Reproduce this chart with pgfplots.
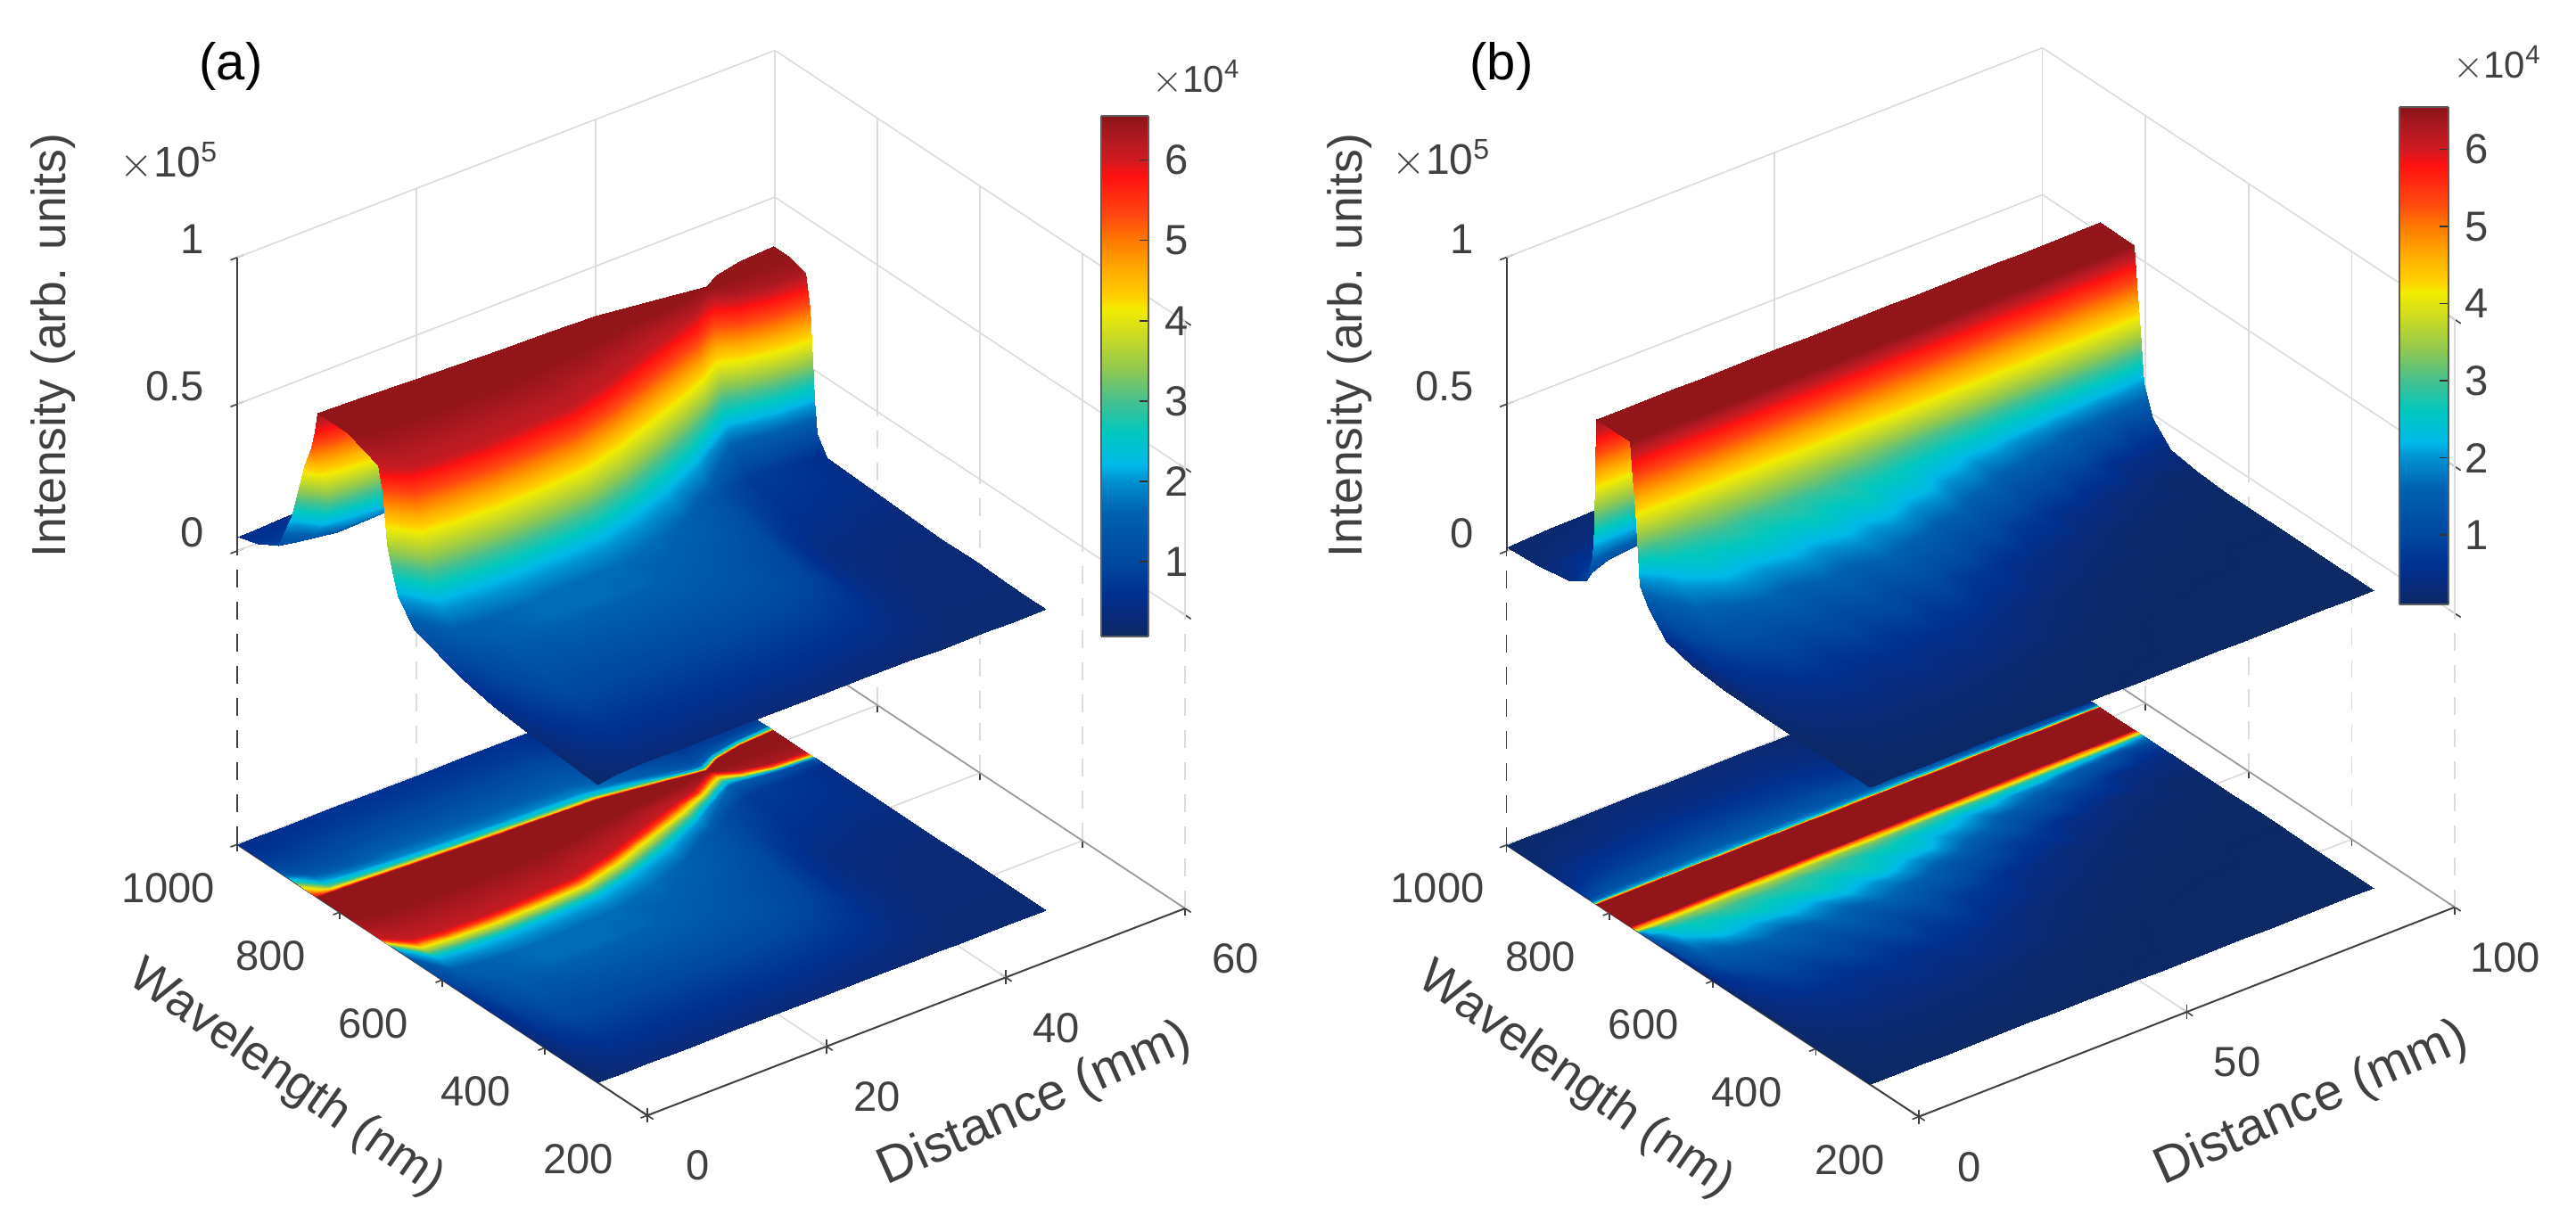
\documentclass[border=0pt]{standalone}
\usepackage{fontspec}
\setmainfont{Liberation Sans}
\usepackage{pgfplots}
\usepackage{pgfplotstable}
\pgfplotsset{compat=1.18}
\definecolor{txt}{HTML}{404040}
\definecolor{gl}{HTML}{DCDCDC}
\definecolor{edge}{HTML}{9A9A9A}
\pgfplotsset{
  colormap={ref}{
    rgb255(7pt)=(12,40,96);
    rgb255(30pt)=(10,42,120);
    rgb255(60pt)=(0,48,144);
    rgb255(100pt)=(0,72,160);
    rgb255(160pt)=(0,96,176);
    rgb255(200pt)=(0,144,208);
    rgb255(220pt)=(0,184,232);
    rgb255(260pt)=(0,200,192);
    rgb255(300pt)=(69,192,144);
    rgb255(340pt)=(144,200,80);
    rgb255(385pt)=(207,220,32);
    rgb255(415pt)=(242,236,0);
    rgb255(430pt)=(255,208,0);
    rgb255(460pt)=(255,176,0);
    rgb255(500pt)=(255,122,0);
    rgb255(530pt)=(255,74,16);
    rgb255(580pt)=(255,16,16);
    rgb255(600pt)=(208,26,32);
    rgb255(620pt)=(184,26,34);
    rgb255(655pt)=(139,20,24)
  },
  mainaxis/.style={
    /pgf/number format/assume math mode=true,
    /pgf/number format/1000 sep={},
    scaled ticks=false,
    clip=false,
    anchor=origin,
    ymin=200,ymax=1000,zmin=-1,zmax=1,
    ytick={200,400,600,800,1000},
    ztick={0,0.5,1},
    point meta min=0.07,point meta max=6.55,
    colormap name=ref,
    axis line style={draw=none},
    tick style={color=txt,line width=0.4pt},
    major tick length=4pt,
    tick align=center,
    tick pos=left,
    tick label style={font=\fontsize{11.8}{12}\selectfont,text=txt},
    xticklabel style={anchor=center,xshift=12.5pt,yshift=-13pt},
    yticklabel style={anchor=center,xshift=-17.5pt,yshift=-11.5pt},
    zticklabel style={anchor=east,xshift=-4pt,yshift=4pt},
    xlabel style={font=\fontsize{14.5}{15}\selectfont,text=txt},
    ylabel style={font=\fontsize{13.8}{15}\selectfont,text=txt},
    zlabel style={font=\fontsize{13.4}{15}\selectfont,text=txt},
  },
  glline/.style={forget plot,color=gl,line width=0.4pt,solid,no markers},
  gldash/.style={forget plot,color=gl,line width=0.4pt,dash pattern=on 5pt off 4pt,no markers},
  edgeline/.style={forget plot,color=edge,line width=0.45pt,no markers},
  axline/.style={forget plot,color=txt,line width=0.5pt,no markers},
  axdash/.style={forget plot,color=txt,line width=0.4pt,dash pattern=on 5pt off 4pt,no markers},
  cbar/.style={
    scale only axis,
    /pgf/number format/assume math mode=true,
    xmin=0,xmax=1,ymax=6.55,
    xtick=\empty,ytick={1,2,3,4,5,6},
    ytick pos=right,yticklabel pos=right,
    tick align=inside,
    major tick length=2.5pt,
    tick style={color=black!80,line width=0.4pt},
    axis line style={color=txt!85,line width=0.6pt},
    tick label style={font=\fontsize{11.8}{12}\selectfont,text=txt,xshift=1pt},
    view={0}{90},
    colormap name=ref,
    point meta min=0.07,point meta max=6.55,
  },
}
\newcommand\GS[2]{\addplot3[glline] coordinates {#1 #2};}
\newcommand\GD[2]{\addplot3[gldash] coordinates {#1 #2};}
\pgfplotstableread[row sep=\\]{
d l I\\
50 1000 .3\\ 50 960 .3\\ 50 920 .35\\ 50 878 .6\\ 50 853 .9\\ 50 840 1.5\\ 50 833 3.2\\ 50 828 6.5\\ 50 797 6.5\\ 50 766 6.3\\ 50 758 5.2\\ 50 752 3.5\\ 50 748 2.2\\ 50 743 1.1\\ 50 725 .5\\ 50 560 .35\\ 50 500 .3\\ 50 440 .3\\ 50 380 .28\\ 50 330 .25\\ 50 297 .25\\
46 1000 .3\\ 46 960 .3\\ 46 920 .4\\ 46 874 .6\\ 46 849 .9\\ 46 836 1.6\\ 46 829 3.2\\ 46 824 6.5\\ 46 797 6.5\\ 46 770 6.3\\ 46 762 5.2\\ 46 756 3.5\\ 46 752 2.2\\ 46 747 1.2\\ 46 725 .7\\ 46 560 .35\\ 46 500 .3\\ 46 440 .3\\ 46 380 .28\\ 46 330 .25\\ 46 297 .25\\
43 1000 .3\\ 43 960 .35\\ 43 920 .45\\ 43 866 .7\\ 43 841 1\\ 43 828 1.6\\ 43 821 3\\ 43 816 6.5\\ 43 798 6.5\\ 43 780 6.3\\ 43 772 5.3\\ 43 765 3.6\\ 43 760 2.4\\ 43 755 1.5\\ 43 730 .8\\ 43 560 .4\\ 43 500 .32\\ 43 440 .3\\ 43 380 .28\\ 43 330 .25\\ 43 297 .25\\
41 1000 .35\\ 41 960 .4\\ 41 920 .55\\ 41 852 .8\\ 41 827 1.1\\ 41 814 1.7\\ 41 807 3\\ 41 802 6.5\\ 41 798 6.5\\ 41 795 6.3\\ 41 787 5.3\\ 41 777 3.8\\ 41 767 2.5\\ 41 757 1.6\\ 41 725 .8\\ 41 560 .4\\ 41 500 .38\\ 41 440 .35\\ 41 380 .3\\ 41 330 .25\\ 41 297 .25\\
40 1000 .4\\ 40 960 .45\\ 40 920 .6\\ 40 853 .9\\ 40 828 1.2\\ 40 815 1.8\\ 40 808 3\\ 40 803 6.5\\ 40 797 6.5\\ 40 790 6.3\\ 40 782 5.5\\ 40 772 4\\ 40 762 2.7\\ 40 752 1.8\\ 40 720 .9\\ 40 560 .45\\ 40 500 .4\\ 40 440 .4\\ 40 380 .35\\ 40 330 .28\\ 40 297 .25\\
38 1000 .45\\ 38 960 .5\\ 38 920 .7\\ 38 858 1\\ 38 833 1.4\\ 38 820 2\\ 38 813 3.3\\ 38 808 6.5\\ 38 792 6.5\\ 38 775 6.2\\ 38 767 5.5\\ 38 757 4\\ 38 747 2.8\\ 38 737 1.9\\ 38 705 1\\ 38 560 .6\\ 38 500 .55\\ 38 440 .5\\ 38 380 .4\\ 38 330 .3\\ 38 297 .25\\
35 1000 .5\\ 35 960 .6\\ 35 920 .8\\ 35 865 1.2\\ 35 840 1.6\\ 35 827 2.3\\ 35 820 3.5\\ 35 815 6.5\\ 35 788 6.5\\ 35 762 6.1\\ 35 754 5.5\\ 35 740 4\\ 35 728 3\\ 35 714 2.1\\ 35 680 1.3\\ 35 560 1\\ 35 500 .9\\ 35 440 .75\\ 35 380 .55\\ 35 330 .35\\ 35 297 .28\\
30 1000 .6\\ 30 960 .8\\ 30 920 1.1\\ 30 876 1.5\\ 30 851 1.9\\ 30 838 2.6\\ 30 831 4\\ 30 826 6.5\\ 30 783 6.5\\ 30 740 6.1\\ 30 730 5.5\\ 30 715 4\\ 30 700 3\\ 30 685 2.2\\ 30 650 1.6\\ 30 560 1.3\\ 30 500 1.2\\ 30 440 .95\\ 30 380 .65\\ 30 330 .4\\ 30 297 .3\\
25 1000 .6\\ 25 960 .8\\ 25 920 1.1\\ 25 879 1.5\\ 25 854 1.9\\ 25 841 2.6\\ 25 834 4\\ 25 829 6.5\\ 25 772 6.5\\ 25 716 6.1\\ 25 706 5.5\\ 25 691 4\\ 25 676 3\\ 25 661 2.2\\ 25 626 1.7\\ 25 560 1.5\\ 25 500 1.3\\ 25 440 1\\ 25 380 .7\\ 25 330 .45\\ 25 297 .3\\
20 1000 .6\\ 20 960 .8\\ 20 920 1.1\\ 20 881 1.5\\ 20 856 1.9\\ 20 843 2.6\\ 20 836 4\\ 20 831 6.5\\ 20 765 6.5\\ 20 698 6.1\\ 20 688 5.5\\ 20 673 4\\ 20 658 3\\ 20 643 2.2\\ 20 608 1.7\\ 20 560 1.65\\ 20 500 1.35\\ 20 440 1\\ 20 380 .7\\ 20 330 .45\\ 20 297 .3\\
15 1000 .6\\ 15 960 .8\\ 15 920 1.1\\ 15 884 1.5\\ 15 859 1.9\\ 15 846 2.6\\ 15 839 4\\ 15 834 6.5\\ 15 764 6.5\\ 15 694 6.1\\ 15 684 5.5\\ 15 669 4\\ 15 654 3\\ 15 639 2.2\\ 15 604 1.7\\ 15 560 1.7\\ 15 500 1.35\\ 15 440 1\\ 15 380 .7\\ 15 330 .45\\ 15 297 .3\\
10 1000 .6\\ 10 960 .8\\ 10 920 1.1\\ 10 888 1.5\\ 10 863 1.9\\ 10 850 2.6\\ 10 843 4\\ 10 838 6.5\\ 10 765 6.5\\ 10 692 6.1\\ 10 682 5.5\\ 10 667 4\\ 10 652 3\\ 10 637 2.2\\ 10 602 1.7\\ 10 560 1.7\\ 10 500 1.3\\ 10 440 1\\ 10 380 .7\\ 10 330 .45\\ 10 297 .3\\
5 1000 .55\\ 5 960 .75\\ 5 920 1\\ 5 892 1.3\\ 5 867 1.9\\ 5 854 2.7\\ 5 847 4.2\\ 5 842 6.5\\ 5 768 6.5\\ 5 695 6.1\\ 5 685 5.5\\ 5 670 4\\ 5 655 3\\ 5 640 2.2\\ 5 605 1.6\\ 5 560 1.5\\ 5 500 1.25\\ 5 440 1\\ 5 380 .7\\ 5 330 .45\\ 5 297 .3\\
2 1000 .5\\ 2 960 .7\\ 2 920 1\\ 2 894 1.4\\ 2 869 2.2\\ 2 856 3.2\\ 2 849 4.5\\ 2 844 6.5\\ 2 772 6.5\\ 2 700 6.1\\ 2 690 5.5\\ 2 675 4\\ 2 660 3\\ 2 645 2.2\\ 2 610 1.5\\ 2 560 1.1\\ 2 500 .9\\ 2 440 .7\\ 2 380 .5\\ 2 330 .35\\ 2 297 .25\\
0 1000 .5\\ 0 960 .7\\ 0 920 1.1\\ 0 894 2.4\\ 0 869 4.4\\ 0 856 5.2\\ 0 849 5.8\\ 0 844 6.5\\ 0 785 6.5\\ 0 725 6.1\\ 0 717 5.3\\ 0 707 3.6\\ 0 697 2.8\\ 0 687 2.1\\ 0 655 1.3\\ 0 560 .7\\ 0 500 .5\\ 0 440 .35\\ 0 380 .25\\ 0 330 .2\\ 0 297 .15\\
}\tabA
\pgfplotstableread[row sep=\\]{
d l I\\
94 1000 .12\\ 94 940 .12\\ 94 880 .15\\ 94 845 .3\\ 94 834 1.5\\ 94 830 2.8\\ 94 826 6.5\\ 94 793 6.5\\ 94 760 6.5\\ 94 756 5.2\\ 94 750 4.1\\ 94 742 2\\ 94 725 1\\ 94 690 .35\\ 94 640 .2\\ 94 580 .14\\ 94 500 .13\\ 94 400 .12\\ 94 295 .12\\
89 1000 .12\\ 89 940 .13\\ 89 880 .2\\ 89 845 .5\\ 89 834 1.6\\ 89 830 2.9\\ 89 826 6.5\\ 89 793 6.5\\ 89 760 6.5\\ 89 756 5.2\\ 89 750 4.1\\ 89 742 2.3\\ 89 725 .95\\ 89 690 .45\\ 89 640 .18\\ 89 580 .15\\ 89 500 .13\\ 89 400 .12\\ 89 295 .12\\
84 1000 .12\\ 84 940 .14\\ 84 880 .25\\ 84 845 .6\\ 84 834 1.7\\ 84 830 2.9\\ 84 826 6.5\\ 84 793 6.5\\ 84 760 6.5\\ 84 756 5.2\\ 84 750 4.1\\ 84 742 2.4\\ 84 725 1.35\\ 84 690 .5\\ 84 640 .28\\ 84 580 .15\\ 84 500 .13\\ 84 400 .12\\ 84 295 .12\\
79 1000 .13\\ 79 940 .15\\ 79 880 .3\\ 79 845 .8\\ 79 834 1.8\\ 79 830 3\\ 79 826 6.5\\ 79 793 6.5\\ 79 760 6.5\\ 79 756 5.3\\ 79 750 4.2\\ 79 742 2.6\\ 79 725 1.5\\ 79 690 .85\\ 79 640 .3\\ 79 580 .18\\ 79 500 .14\\ 79 400 .12\\ 79 295 .12\\
74 1000 .14\\ 74 940 .18\\ 74 880 .35\\ 74 845 .9\\ 74 834 1.8\\ 74 830 3\\ 74 826 6.5\\ 74 793 6.5\\ 74 760 6.5\\ 74 756 5.3\\ 74 750 4.2\\ 74 742 2.8\\ 74 725 1.85\\ 74 690 .95\\ 74 640 .45\\ 74 580 .2\\ 74 500 .14\\ 74 400 .12\\ 74 295 .12\\
69 1000 .15\\ 69 940 .2\\ 69 880 .4\\ 69 845 1\\ 69 834 1.9\\ 69 830 3\\ 69 826 6.5\\ 69 793 6.5\\ 69 760 6.5\\ 69 756 5.3\\ 69 750 4.2\\ 69 742 2.8\\ 69 725 1.95\\ 69 690 1.25\\ 69 640 .5\\ 69 580 .28\\ 69 500 .15\\ 69 400 .12\\ 69 295 .12\\
64 1000 .15\\ 64 940 .25\\ 64 880 .5\\ 64 845 1.1\\ 64 834 1.9\\ 64 830 3\\ 64 826 6.5\\ 64 793 6.5\\ 64 760 6.5\\ 64 756 5.3\\ 64 750 4.2\\ 64 742 2.9\\ 64 725 2.25\\ 64 690 1.35\\ 64 640 .75\\ 64 580 .3\\ 64 500 .18\\ 64 400 .12\\ 64 295 .12\\
59 1000 .18\\ 59 940 .3\\ 59 880 .6\\ 59 845 1.2\\ 59 834 2\\ 59 830 3\\ 59 826 6.5\\ 59 793 6.5\\ 59 760 6.5\\ 59 756 5.3\\ 59 750 4.3\\ 59 742 3\\ 59 725 2.2\\ 59 690 1.75\\ 59 640 .85\\ 59 580 .42\\ 59 500 .2\\ 59 400 .13\\ 59 295 .12\\
54 1000 .2\\ 54 940 .35\\ 54 880 .7\\ 54 845 1.3\\ 54 834 2\\ 54 830 3\\ 54 826 6.5\\ 54 793 6.5\\ 54 760 6.5\\ 54 756 5.3\\ 54 750 4.3\\ 54 742 3.1\\ 54 725 2.45\\ 54 690 1.85\\ 54 640 1.15\\ 54 580 .5\\ 54 500 .25\\ 54 400 .14\\ 54 295 .12\\
49 1000 .22\\ 49 940 .4\\ 49 880 .8\\ 49 845 1.4\\ 49 834 2\\ 49 830 3\\ 49 826 6.5\\ 49 793 6.5\\ 49 760 6.5\\ 49 756 5.3\\ 49 750 4.3\\ 49 742 3.2\\ 49 725 2.55\\ 49 690 2.25\\ 49 640 1.25\\ 49 580 .72\\ 49 500 .3\\ 49 400 .15\\ 49 295 .12\\
44 1000 .25\\ 44 940 .45\\ 44 880 .9\\ 44 845 1.4\\ 44 834 2\\ 44 830 3\\ 44 826 6.5\\ 44 793 6.5\\ 44 760 6.5\\ 44 756 5.3\\ 44 750 4.3\\ 44 742 3.3\\ 44 725 2.75\\ 44 690 2.25\\ 44 640 1.55\\ 44 580 .8\\ 44 500 .42\\ 44 400 .17\\ 44 295 .12\\
39 1000 .25\\ 39 940 .45\\ 39 880 .9\\ 39 845 1.5\\ 39 834 2\\ 39 830 3\\ 39 826 6.5\\ 39 793 6.5\\ 39 760 6.5\\ 39 756 5.3\\ 39 750 4.3\\ 39 742 3.4\\ 39 725 2.75\\ 39 690 2.55\\ 39 640 1.65\\ 39 580 1.05\\ 39 500 .48\\ 39 400 .2\\ 39 295 .12\\
34 1000 .25\\ 34 940 .45\\ 34 880 .95\\ 34 845 1.5\\ 34 834 2\\ 34 830 3\\ 34 826 6.5\\ 34 793 6.5\\ 34 760 6.5\\ 34 756 5.3\\ 34 750 4.3\\ 34 742 3.4\\ 34 725 2.9\\ 34 690 2.4\\ 34 640 1.8\\ 34 580 .95\\ 34 500 .55\\ 34 400 .22\\ 34 295 .12\\
29 1000 .25\\ 29 940 .45\\ 29 880 .95\\ 29 845 1.5\\ 29 834 2\\ 29 830 3\\ 29 826 6.5\\ 29 793 6.5\\ 29 760 6.5\\ 29 756 5.3\\ 29 750 4.3\\ 29 742 3.5\\ 29 725 2.85\\ 29 690 2.6\\ 29 640 1.6\\ 29 580 1.15\\ 29 500 .5\\ 29 400 .25\\ 29 295 .12\\
24 1000 .25\\ 24 940 .45\\ 24 880 .95\\ 24 845 1.5\\ 24 834 2\\ 24 830 3\\ 24 826 6.5\\ 24 793 6.5\\ 24 760 6.5\\ 24 756 5.3\\ 24 750 4.3\\ 24 742 3.5\\ 24 725 2.95\\ 24 690 2.4\\ 24 640 1.75\\ 24 580 1\\ 24 500 .58\\ 24 400 .25\\ 24 295 .13\\
19 1000 .25\\ 19 940 .45\\ 19 880 .9\\ 19 845 1.5\\ 19 834 2\\ 19 830 3\\ 19 826 6.5\\ 19 793 6.5\\ 19 760 6.5\\ 19 756 5.3\\ 19 750 4.3\\ 19 742 3.5\\ 19 725 2.85\\ 19 690 2.5\\ 19 640 1.55\\ 19 580 1.1\\ 19 500 .5\\ 19 400 .25\\ 19 295 .13\\
14 1000 .22\\ 14 940 .4\\ 14 880 .85\\ 14 845 1.4\\ 14 834 2\\ 14 830 3\\ 14 826 6.5\\ 14 793 6.5\\ 14 760 6.5\\ 14 756 5.3\\ 14 750 4.3\\ 14 742 3.5\\ 14 725 2.95\\ 14 690 2.35\\ 14 640 1.65\\ 14 580 .95\\ 14 500 .55\\ 14 400 .25\\ 14 295 .12\\
9 1000 .2\\ 9 940 .35\\ 9 880 .8\\ 9 845 1.3\\ 9 834 2\\ 9 830 3\\ 9 826 6.5\\ 9 793 6.5\\ 9 760 6.5\\ 9 756 5.3\\ 9 750 4.3\\ 9 742 3.4\\ 9 725 2.75\\ 9 690 2.4\\ 9 640 1.45\\ 9 580 1\\ 9 500 .5\\ 9 400 .24\\ 9 295 .12\\
4 1000 .18\\ 4 940 .3\\ 4 880 .7\\ 4 845 1.2\\ 4 834 1.9\\ 4 830 3\\ 4 826 6.5\\ 4 793 6.5\\ 4 760 6.5\\ 4 756 5.3\\ 4 750 4.3\\ 4 742 3.2\\ 4 725 2.5\\ 4 690 1.9\\ 4 640 1.3\\ 4 580 .7\\ 4 500 .4\\ 4 400 .2\\ 4 295 .12\\
1 1000 .15\\ 1 940 .25\\ 1 880 .5\\ 1 845 1\\ 1 834 1.8\\ 1 830 2.9\\ 1 826 6.5\\ 1 793 6.5\\ 1 760 6.5\\ 1 756 5.3\\ 1 750 4.3\\ 1 742 2.4\\ 1 725 1.8\\ 1 690 1.2\\ 1 640 .8\\ 1 580 .5\\ 1 500 .3\\ 1 400 .15\\ 1 295 .12\\
0 1000 .12\\ 0 940 .2\\ 0 880 .4\\ 0 845 .8\\ 0 834 1.7\\ 0 830 2.8\\ 0 826 6.5\\ 0 793 6.5\\ 0 760 6.5\\ 0 756 5.3\\ 0 750 4.3\\ 0 742 1.8\\ 0 725 1.2\\ 0 690 .5\\ 0 640 .25\\ 0 580 .15\\ 0 500 .12\\ 0 400 .12\\ 0 295 .12\\
}\tabB
\begin{document}
\begin{tikzpicture}
\useasboundingbox (0,0) rectangle (722.25pt,343pt);
% ---------- panel a
\begin{axis}[mainaxis,
  at={(181.5pt,112.5pt)},
  x={(2.5125pt,0.9675pt)},y={(-0.14375pt,0.095pt)},z={(0pt,82.3pt)},
  xmin=0,xmax=60,xtick={0,20,40,60},
  xlabel={Distance (mm)},ylabel={Wavelength (nm)},zlabel={Intensity (arb. units)},
  xlabel style={at={([xshift=33.4pt,yshift=-26pt]axis cs:30,200,-1)},anchor=center,rotate=24},
  ylabel style={at={([xshift=-43.75pt,yshift=-27.75pt]axis cs:0,600,-1)},anchor=center,rotate=-35},
  zlabel style={at={([xshift=-51.5pt,yshift=16.5pt]axis cs:0,1000,0.5)},anchor=center,rotate=0},
]
\GS{(0,1000,1)}{(60,1000,1)}\GS{(60,1000,1)}{(60,200,1)}
\GS{(0,1000,.5)}{(60,1000,.5)}\GS{(60,1000,.5)}{(60,200,.5)}
\GS{(0,1000,0)}{(60,1000,0)}\GS{(60,1000,0)}{(60,200,0)}
\GS{(20,1000,0)}{(20,1000,1)}\GS{(40,1000,0)}{(40,1000,1)}\GS{(60,1000,0)}{(60,1000,1)}
\GS{(60,800,0)}{(60,800,1)}\GS{(60,600,0)}{(60,600,1)}\GS{(60,400,0)}{(60,400,1)}\GS{(60,200,0)}{(60,200,1)}
\GD{(20,1000,-1)}{(20,1000,0)}\GD{(40,1000,-1)}{(40,1000,0)}\GD{(60,1000,-1)}{(60,1000,0)}
\GD{(60,800,-1)}{(60,800,0)}\GD{(60,600,-1)}{(60,600,0)}\GD{(60,400,-1)}{(60,400,0)}\GD{(60,200,-1)}{(60,200,0)}
\GS{(20,200,-1)}{(20,1000,-1)}\GS{(40,200,-1)}{(40,1000,-1)}
\GS{(0,800,-1)}{(60,800,-1)}\GS{(0,600,-1)}{(60,600,-1)}\GS{(0,400,-1)}{(60,400,-1)}
\GS{(0,1000,-1)}{(60,1000,-1)}
\addplot3[edgeline] coordinates {(60,200,-1) (60,1000,-1)};
\addplot3[axline] coordinates {(0,1000,0) (0,1000,1)};
\addplot3[axdash] coordinates {(0,1000,-1) (0,1000,0)};
\addplot3[axline] coordinates {(0,1000,-1) (0,200,-1)};
\addplot3[axline] coordinates {(0,200,-1) (60,200,-1)};
\addplot3[surf,shader=interp,z buffer=none,mesh/ordering=x varies,mesh/cols=21,point meta=\thisrow{I},forget plot]
  table[x=d,y=l,z expr=-1] {\tabA};
\addplot3[surf,shader=interp,z buffer=none,mesh/ordering=x varies,mesh/cols=21,point meta=\thisrow{I},forget plot]
  table[x=d,y=l,z expr=\thisrow{I}/10] {\tabA};
\end{axis}
\begin{axis}[cbar,at={(308.75pt,164.5pt)},anchor=south west,width=13.25pt,height=146pt,ymin=0.07]
\addplot3[surf,shader=interp,mesh/cols=2,point meta=y] coordinates {(0,0.07,0) (1,0.07,0) (0,6.55,0) (1,6.55,0)};
\end{axis}
% ---------- panel b
\begin{axis}[mainaxis,
  at={(538pt,112.25pt)},
  x={(1.5025pt,0.5875pt)},y={(-0.1445pt,0.09525pt)},z={(0pt,82.4pt)},
  xmin=0,xmax=100,xtick={0,50,100},
  xlabel={Distance (mm)},ylabel={Wavelength (nm)},zlabel={Intensity (arb. units)},
  xlabel style={at={([xshift=35pt,yshift=-25.9pt]axis cs:50,200,-1)},anchor=center,rotate=24},
  ylabel style={at={([xshift=-38.5pt,yshift=-28pt]axis cs:0,600,-1)},anchor=center,rotate=-35},
  zlabel style={at={([xshift=-43.9pt,yshift=16.5pt]axis cs:0,1000,0.5)},anchor=center,rotate=0},
]
\GS{(0,1000,1)}{(100,1000,1)}\GS{(100,1000,1)}{(100,200,1)}
\GS{(0,1000,.5)}{(100,1000,.5)}\GS{(100,1000,.5)}{(100,200,.5)}
\GS{(0,1000,0)}{(100,1000,0)}\GS{(100,1000,0)}{(100,200,0)}
\GS{(50,1000,0)}{(50,1000,1)}\GS{(100,1000,0)}{(100,1000,1)}
\GS{(100,800,0)}{(100,800,1)}\GS{(100,600,0)}{(100,600,1)}\GS{(100,400,0)}{(100,400,1)}\GS{(100,200,0)}{(100,200,1)}
\GD{(50,1000,-1)}{(50,1000,0)}\GD{(100,1000,-1)}{(100,1000,0)}
\GD{(100,800,-1)}{(100,800,0)}\GD{(100,600,-1)}{(100,600,0)}\GD{(100,400,-1)}{(100,400,0)}\GD{(100,200,-1)}{(100,200,0)}
\GS{(50,200,-1)}{(50,1000,-1)}
\GS{(0,800,-1)}{(100,800,-1)}\GS{(0,600,-1)}{(100,600,-1)}\GS{(0,400,-1)}{(100,400,-1)}
\GS{(0,1000,-1)}{(100,1000,-1)}
\addplot3[edgeline] coordinates {(100,200,-1) (100,1000,-1)};
\addplot3[axline] coordinates {(0,1000,0) (0,1000,1)};
\addplot3[axdash] coordinates {(0,1000,-1) (0,1000,0)};
\addplot3[axline] coordinates {(0,1000,-1) (0,200,-1)};
\addplot3[axline] coordinates {(0,200,-1) (100,200,-1)};
\addplot3[surf,shader=interp,z buffer=none,mesh/ordering=x varies,mesh/cols=19,point meta=\thisrow{I},forget plot]
  table[x=d,y=l,z expr=-1] {\tabB};
\addplot3[surf,shader=interp,z buffer=none,mesh/ordering=x varies,mesh/cols=19,point meta=\thisrow{I},forget plot]
  table[x=d,y=l,z expr=\thisrow{I}/10] {\tabB};
\end{axis}
\begin{axis}[cbar,at={(672.75pt,173.5pt)},anchor=south west,width=13.75pt,height=139.5pt,ymin=0.1]
\addplot3[surf,shader=interp,mesh/cols=2,point meta=y] coordinates {(0,0.1,0) (1,0.1,0) (0,6.55,0) (1,6.55,0)};
\end{axis}
% ---------- annotations
\node[font=\fontsize{14.5}{15}\selectfont] at (64.75pt,324.5pt) {(a)};
\node[font=\fontsize{14.5}{15}\selectfont] at (421pt,324.5pt) {(b)};
\node[font=\fontsize{12}{13}\selectfont,text=txt] at (47.5pt,297.75pt) {$\times$10\textsuperscript{5}};
\node[font=\fontsize{12}{13}\selectfont,text=txt] at (404.25pt,298.5pt) {$\times$10\textsuperscript{5}};
\node[font=\fontsize{10.5}{12}\selectfont,text=txt] at (335.5pt,321.25pt) {$\times$10\textsuperscript{4}};
\node[font=\fontsize{10.5}{12}\selectfont,text=txt] at (700.25pt,325.25pt) {$\times$10\textsuperscript{4}};
\end{tikzpicture}
\end{document}
